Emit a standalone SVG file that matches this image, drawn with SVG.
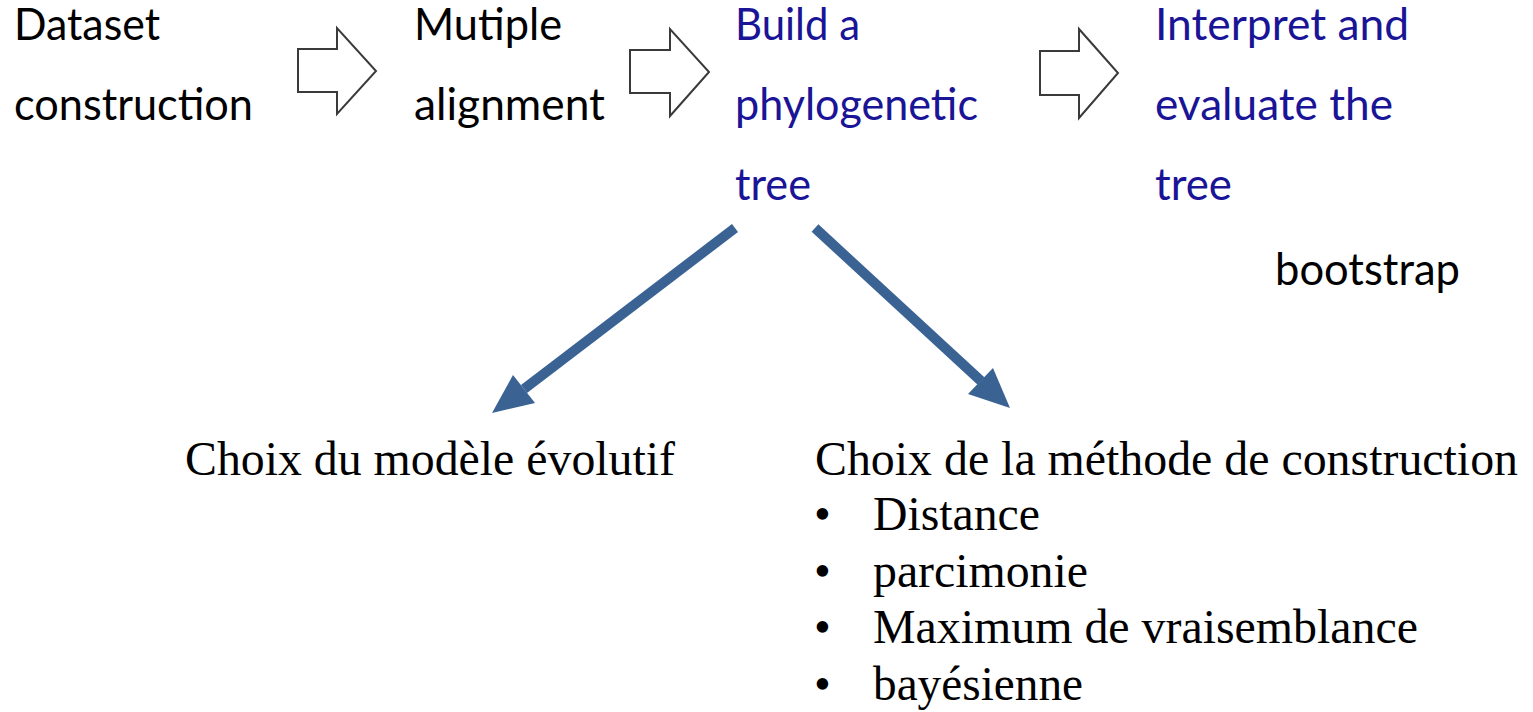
<svg xmlns="http://www.w3.org/2000/svg" width="1533" height="712" viewBox="0 0 1533 712">
<style>
.sans{font-family:Lato,"Open Sans","Liberation Sans",sans-serif;font-size:44px}
.blk{fill:#000}
.blue{fill:#1a1496}
.serif{font-family:"Liberation Serif","Times New Roman",serif;font-size:48px;fill:#000}
.block{fill:#fff;stroke:#3a3a3a;stroke-width:2;stroke-linejoin:miter}
.conn{stroke:#3a6394;stroke-width:10;fill:none}
.head{fill:#3a6394}
</style>
<rect width="1533" height="712" fill="#fff"/>
<g id="node-dataset">
<text class="sans blk" x="14" y="40" textLength="146" lengthAdjust="spacingAndGlyphs">Dataset</text>
<text class="sans blk" x="14" y="120" textLength="239" lengthAdjust="spacingAndGlyphs">construction</text>
</g>
<g id="node-alignment">
<text class="sans blk" x="414" y="40" textLength="148" lengthAdjust="spacingAndGlyphs">Mutiple</text>
<text class="sans blk" x="414" y="120" textLength="191" lengthAdjust="spacingAndGlyphs">alignment</text>
</g>
<g id="node-build">
<text class="sans blue" x="735" y="40" textLength="125" lengthAdjust="spacingAndGlyphs">Build a</text>
<text class="sans blue" x="735" y="120" textLength="243" lengthAdjust="spacingAndGlyphs">phylogenetic</text>
<text class="sans blue" x="735" y="200" textLength="76" lengthAdjust="spacingAndGlyphs">tree</text>
</g>
<g id="node-interpret">
<text class="sans blue" x="1155" y="40" textLength="254" lengthAdjust="spacingAndGlyphs">Interpret and</text>
<text class="sans blue" x="1155" y="120" textLength="238" lengthAdjust="spacingAndGlyphs">evaluate the</text>
<text class="sans blue" x="1155" y="200" textLength="77" lengthAdjust="spacingAndGlyphs">tree</text>
</g>
<g id="node-bootstrap">
<text class="sans blk" x="1275" y="285" textLength="185" lengthAdjust="spacingAndGlyphs">bootstrap</text>
</g>
<g id="node-modele">
<text class="serif" x="185" y="475" textLength="490" lengthAdjust="spacingAndGlyphs">Choix du modèle évolutif</text>
</g>
<g id="node-methode">
<text class="serif" x="815" y="475" textLength="703" lengthAdjust="spacingAndGlyphs">Choix de la méthode de construction</text>
<text class="serif" x="814" y="530">•</text>
<text class="serif" x="873" y="530" textLength="167" lengthAdjust="spacingAndGlyphs">Distance</text>
<text class="serif" x="814" y="587">•</text>
<text class="serif" x="873" y="587" textLength="215" lengthAdjust="spacingAndGlyphs">parcimonie</text>
<text class="serif" x="814" y="643">•</text>
<text class="serif" x="873" y="643" textLength="545" lengthAdjust="spacingAndGlyphs">Maximum de vraisemblance</text>
<text class="serif" x="814" y="700">•</text>
<text class="serif" x="873" y="700" textLength="210" lengthAdjust="spacingAndGlyphs">bayésienne</text>
</g>
<g id="connectors">
<polygon class="block" points="298,49 337,49 337,28 376,71 337,114 337,92 298,92"/>
<polygon class="block" points="630,50 670,50 670,29 709,72 670,116 670,93 630,93"/>
<polygon class="block" points="1040,51 1079,51 1079,29 1118,73 1079,118 1079,95 1040,95"/>
<line class="conn" x1="735" y1="228" x2="524" y2="389"/>
<polygon class="head" points="492,413 535,403 513,375"/>
<line class="conn" x1="815" y1="228" x2="981" y2="381"/>
<polygon class="head" points="1010,408 968,394 993,368"/>
</g>
</svg>
